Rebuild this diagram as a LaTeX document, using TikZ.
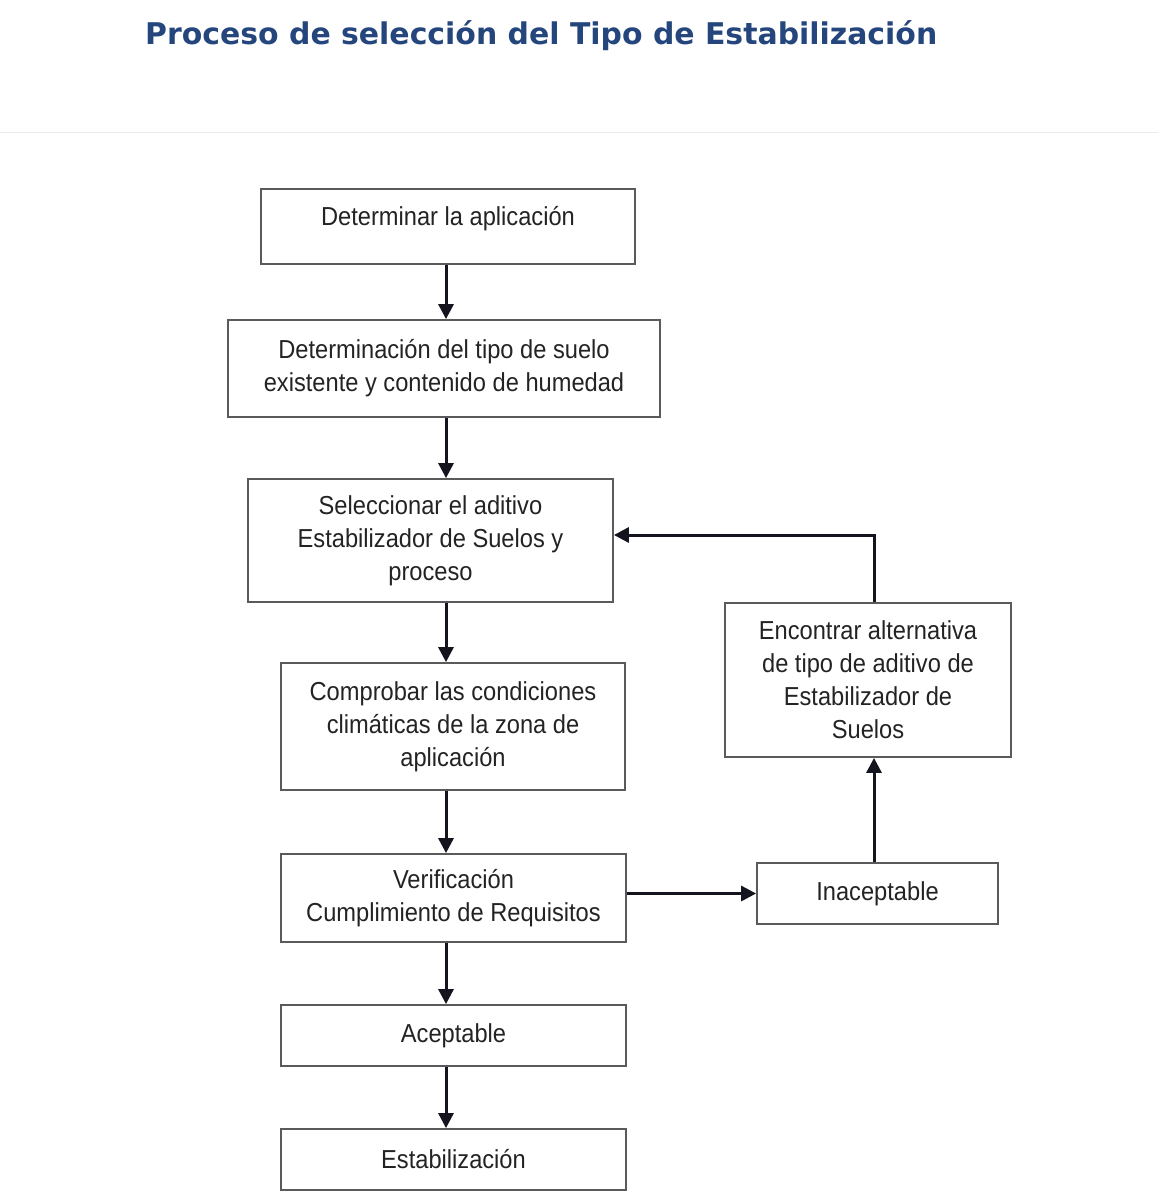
\documentclass[tikz,border=0pt]{standalone}
\usepackage{fontspec}
\usepackage{graphicx}
\setmainfont{Liberation Sans}
\newfontfamily\boxfont[FakeStretch=0.91]{Liberation Sans}
\newfontfamily\titlefont{DejaVu Sans}
\usetikzlibrary{arrows.meta}
\definecolor{titleblue}{RGB}{36,70,125}
\definecolor{boxline}{RGB}{90,90,90}
\definecolor{txt}{RGB}{35,35,35}
\definecolor{arr}{RGB}{20,20,30}
\tikzset{
  procbox/.style={draw=boxline, line width=1.8pt, inner sep=0pt, align=center,
    text=txt, font=\boxfont\fontsize{26}{33}\selectfont},
  flow/.style={draw=arr, line width=3pt, -{Triangle[length=15pt,width=15pt]}}
}
\begin{document}
\begin{tikzpicture}[x=1pt,y=-1pt]
\useasboundingbox[fill=white] (0,0) rectangle (1158,1196);
\draw[black!8, line width=1pt] (0,133) -- (1158,133);
\node[anchor=base west, inner sep=0pt, text=titleblue] (title) at (145,45)
  {\resizebox{792pt}{!}{\titlefont\bfseries Proceso de selección del Tipo de Estabilización}};

\node[procbox, minimum width=374pt, minimum height=75pt] (b1) at (448,226.5) {\raisebox{8pt}[\height][\depth]{Determinar la aplicación}};
\node[procbox, minimum width=432pt, minimum height=97pt] (b2) at (444,368.5) {Determinación del tipo de suelo\\existente y contenido de humedad};
\node[procbox, minimum width=365pt, minimum height=123pt] (b3) at (430.5,540.5) {Seleccionar el aditivo\\Estabilizador de Suelos y\\proceso};
\node[procbox, minimum width=344pt, minimum height=127pt] (b4) at (453,726.5) {Comprobar las condiciones\\climáticas de la zona de\\aplicación};
\node[procbox, minimum width=345pt, minimum height=88pt] (b5) at (453.5,898) {Verificación\\Cumplimiento de Requisitos};
\node[procbox, minimum width=345pt, minimum height=61pt] (b6) at (453.5,1035.5) {Aceptable};
\node[procbox, minimum width=345pt, minimum height=61pt] (b7) at (453.5,1159.5) {Estabilización};
\node[procbox, minimum width=286pt, minimum height=154pt] (b8) at (868,680) {Encontrar alternativa\\de tipo de aditivo de\\Estabilizador de\\Suelos};
\node[procbox, minimum width=241pt, minimum height=61pt] (b9) at (877.5,893.5) {Inaceptable};

\coordinate (ax) at (446,0);
\coordinate (vx) at (874,0);
\coordinate (ry) at (0,535);

\draw[flow] (b1.south -| ax) -- (b2.north -| ax);
\draw[flow] (b2.south -| ax) -- (b3.north -| ax);
\draw[flow] (b3.south -| ax) -- (b4.north -| ax);
\draw[flow] (b4.south -| ax) -- (b5.north -| ax);
\draw[flow] (b5.south -| ax) -- (b6.north -| ax);
\draw[flow] (b6.south -| ax) -- (b7.north -| ax);
\draw[flow] (b9.west -| b5.east) -- (b9.west);
\draw[flow] (b9.north -| vx) -- (b8.south -| vx);
\draw[flow] (b8.north -| vx) |- (b3.east |- ry);
\end{tikzpicture}
\end{document}
